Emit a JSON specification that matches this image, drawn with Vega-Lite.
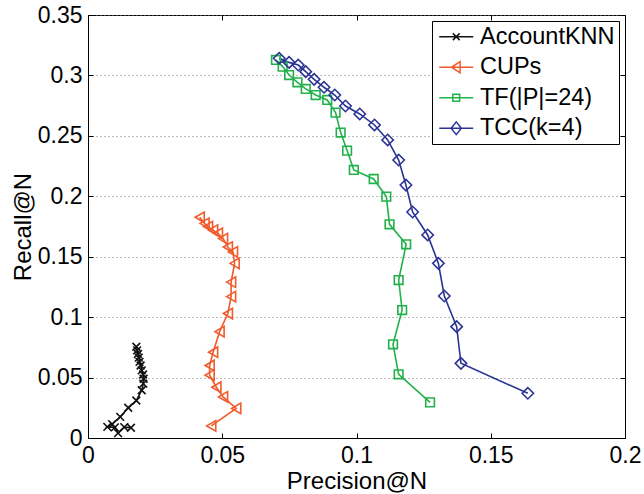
{
  "$schema": "https://vega.github.io/schema/vega-lite/v6.json",
  "autosize": "none",
  "width": 537,
  "height": 423,
  "padding": {"left": 88, "top": 15, "right": 19, "bottom": 56},
  "background": "white",
  "config": {
    "font": "Liberation Sans",
    "view": {"stroke": "black", "strokeWidth": 1},
    "axis": {
      "domainColor": "black",
      "tickColor": "black",
      "labelColor": "black",
      "titleColor": "black",
      "labelFont": "Liberation Sans",
      "titleFont": "Liberation Sans",
      "labelFontSize": 23,
      "titleFontSize": 24,
      "titleFontWeight": "normal",
      "labelFlush": false,
      "labelOverlap": false
    }
  },
  "data": {"values": [
    {"method": "AccountKNN", "n": 1, "precision": 0.0160, "recall": 0.0085},
    {"method": "AccountKNN", "n": 2, "precision": 0.0135, "recall": 0.0090},
    {"method": "AccountKNN", "n": 3, "precision": 0.0112, "recall": 0.0040},
    {"method": "AccountKNN", "n": 4, "precision": 0.0100, "recall": 0.0088},
    {"method": "AccountKNN", "n": 5, "precision": 0.0072, "recall": 0.0092},
    {"method": "AccountKNN", "n": 6, "precision": 0.0090, "recall": 0.0115},
    {"method": "AccountKNN", "n": 7, "precision": 0.0120, "recall": 0.0175},
    {"method": "AccountKNN", "n": 8, "precision": 0.0150, "recall": 0.0250},
    {"method": "AccountKNN", "n": 9, "precision": 0.0180, "recall": 0.0310},
    {"method": "AccountKNN", "n": 10, "precision": 0.0200, "recall": 0.0395},
    {"method": "AccountKNN", "n": 11, "precision": 0.0206, "recall": 0.0450},
    {"method": "AccountKNN", "n": 12, "precision": 0.0207, "recall": 0.0490},
    {"method": "AccountKNN", "n": 13, "precision": 0.0205, "recall": 0.0525},
    {"method": "AccountKNN", "n": 14, "precision": 0.0200, "recall": 0.0560},
    {"method": "AccountKNN", "n": 15, "precision": 0.0196, "recall": 0.0600},
    {"method": "AccountKNN", "n": 16, "precision": 0.0192, "recall": 0.0630},
    {"method": "AccountKNN", "n": 17, "precision": 0.0189, "recall": 0.0665},
    {"method": "AccountKNN", "n": 18, "precision": 0.0186, "recall": 0.0695},
    {"method": "AccountKNN", "n": 19, "precision": 0.0183, "recall": 0.0725},
    {"method": "AccountKNN", "n": 20, "precision": 0.0180, "recall": 0.0755},
    {"method": "CUPs", "n": 1, "precision": 0.0459, "recall": 0.0100},
    {"method": "CUPs", "n": 2, "precision": 0.0552, "recall": 0.0245},
    {"method": "CUPs", "n": 3, "precision": 0.0503, "recall": 0.0340},
    {"method": "CUPs", "n": 4, "precision": 0.0478, "recall": 0.0420},
    {"method": "CUPs", "n": 5, "precision": 0.0453, "recall": 0.0520},
    {"method": "CUPs", "n": 6, "precision": 0.0453, "recall": 0.0600},
    {"method": "CUPs", "n": 7, "precision": 0.0466, "recall": 0.0710},
    {"method": "CUPs", "n": 8, "precision": 0.0490, "recall": 0.0880},
    {"method": "CUPs", "n": 9, "precision": 0.0521, "recall": 0.1030},
    {"method": "CUPs", "n": 10, "precision": 0.0533, "recall": 0.1170},
    {"method": "CUPs", "n": 11, "precision": 0.0533, "recall": 0.1290},
    {"method": "CUPs", "n": 12, "precision": 0.0546, "recall": 0.1445},
    {"method": "CUPs", "n": 13, "precision": 0.0540, "recall": 0.1540},
    {"method": "CUPs", "n": 14, "precision": 0.0521, "recall": 0.1580},
    {"method": "CUPs", "n": 15, "precision": 0.0503, "recall": 0.1650},
    {"method": "CUPs", "n": 16, "precision": 0.0484, "recall": 0.1694},
    {"method": "CUPs", "n": 17, "precision": 0.0466, "recall": 0.1720},
    {"method": "CUPs", "n": 18, "precision": 0.0447, "recall": 0.1749},
    {"method": "CUPs", "n": 19, "precision": 0.0434, "recall": 0.1776},
    {"method": "CUPs", "n": 20, "precision": 0.0416, "recall": 0.1826},
    {"method": "TF(|P|=24)", "n": 1, "precision": 0.1274, "recall": 0.0295},
    {"method": "TF(|P|=24)", "n": 2, "precision": 0.1157, "recall": 0.0527},
    {"method": "TF(|P|=24)", "n": 3, "precision": 0.1136, "recall": 0.0775},
    {"method": "TF(|P|=24)", "n": 4, "precision": 0.1170, "recall": 0.1059},
    {"method": "TF(|P|=24)", "n": 5, "precision": 0.1157, "recall": 0.1307},
    {"method": "TF(|P|=24)", "n": 6, "precision": 0.1185, "recall": 0.1603},
    {"method": "TF(|P|=24)", "n": 7, "precision": 0.1123, "recall": 0.1768},
    {"method": "TF(|P|=24)", "n": 8, "precision": 0.1111, "recall": 0.1997},
    {"method": "TF(|P|=24)", "n": 9, "precision": 0.1064, "recall": 0.2143},
    {"method": "TF(|P|=24)", "n": 10, "precision": 0.0990, "recall": 0.2218},
    {"method": "TF(|P|=24)", "n": 11, "precision": 0.0965, "recall": 0.2378},
    {"method": "TF(|P|=24)", "n": 12, "precision": 0.0941, "recall": 0.2527},
    {"method": "TF(|P|=24)", "n": 13, "precision": 0.0922, "recall": 0.2692},
    {"method": "TF(|P|=24)", "n": 14, "precision": 0.0891, "recall": 0.2797},
    {"method": "TF(|P|=24)", "n": 15, "precision": 0.0848, "recall": 0.2838},
    {"method": "TF(|P|=24)", "n": 16, "precision": 0.0811, "recall": 0.2888},
    {"method": "TF(|P|=24)", "n": 17, "precision": 0.0780, "recall": 0.2943},
    {"method": "TF(|P|=24)", "n": 18, "precision": 0.0749, "recall": 0.3003},
    {"method": "TF(|P|=24)", "n": 19, "precision": 0.0725, "recall": 0.3073},
    {"method": "TF(|P|=24)", "n": 20, "precision": 0.0700, "recall": 0.3128},
    {"method": "TCC(k=4)", "n": 1, "precision": 0.1638, "recall": 0.0370},
    {"method": "TCC(k=4)", "n": 2, "precision": 0.1389, "recall": 0.0618},
    {"method": "TCC(k=4)", "n": 3, "precision": 0.1373, "recall": 0.0921},
    {"method": "TCC(k=4)", "n": 4, "precision": 0.1327, "recall": 0.1175},
    {"method": "TCC(k=4)", "n": 5, "precision": 0.1305, "recall": 0.1445},
    {"method": "TCC(k=4)", "n": 6, "precision": 0.1265, "recall": 0.1680},
    {"method": "TCC(k=4)", "n": 7, "precision": 0.1209, "recall": 0.1870},
    {"method": "TCC(k=4)", "n": 8, "precision": 0.1184, "recall": 0.2093},
    {"method": "TCC(k=4)", "n": 9, "precision": 0.1157, "recall": 0.2300},
    {"method": "TCC(k=4)", "n": 10, "precision": 0.1116, "recall": 0.2466},
    {"method": "TCC(k=4)", "n": 11, "precision": 0.1067, "recall": 0.2590},
    {"method": "TCC(k=4)", "n": 12, "precision": 0.1012, "recall": 0.2681},
    {"method": "TCC(k=4)", "n": 13, "precision": 0.0959, "recall": 0.2747},
    {"method": "TCC(k=4)", "n": 14, "precision": 0.0919, "recall": 0.2838},
    {"method": "TCC(k=4)", "n": 15, "precision": 0.0879, "recall": 0.2902},
    {"method": "TCC(k=4)", "n": 16, "precision": 0.0842, "recall": 0.2968},
    {"method": "TCC(k=4)", "n": 17, "precision": 0.0811, "recall": 0.3031},
    {"method": "TCC(k=4)", "n": 18, "precision": 0.0783, "recall": 0.3086},
    {"method": "TCC(k=4)", "n": 19, "precision": 0.0749, "recall": 0.3108},
    {"method": "TCC(k=4)", "n": 20, "precision": 0.0712, "recall": 0.3142}
  ]},
  "encoding": {
    "color": {
      "field": "method", "type": "nominal",
      "scale": {"domain": ["AccountKNN", "CUPs", "TF(|P|=24)", "TCC(k=4)"],
                "range": ["#111111", "#f15a2b", "#21b14b", "#2b3494"]},
      "legend": {
        "title": null, "orient": "none", "legendX": 344, "legendY": 6,
        "fillColor": "white", "strokeColor": "black", "padding": 4,
        "labelFont": "Liberation Sans", "labelFontSize": 23.5, "labelColor": "black",
        "symbolSize": 289, "symbolStrokeWidth": 1.5, "symbolFillColor": "transparent",
        "symbolOffset": 8.5, "rowPadding": 5.5, "labelOffset": 12,
        "encode": {
          "symbols": {"update": {
            "fill": {"value": "transparent"},
            "shape": {"signal": "datum.value === 'AccountKNN' ? 'M-2,0L2,0M-0.4,-0.4L0.4,0.4M-0.4,0.4L0.4,-0.4' : datum.value === 'CUPs' ? 'M-2,0L2,0M-0.55,0L0.45,-0.65L0.45,0.65Z' : datum.value === 'TF(|P|=24)' ? 'M-2,0L2,0M-0.4,-0.4L0.4,-0.4L0.4,0.4L-0.4,0.4Z' : 'M-2,0L2,0M-0.6,0L0,-0.75L0.6,0L0,0.75Z'"}
          }}
        }
      }
    }
  },
  "resolve": {"axis": {"x": "independent", "y": "independent"}},
  "layer": [
    {
      "mark": {"type": "line", "strokeWidth": 1.6},
      "encoding": {
        "x": {
          "field": "precision", "type": "quantitative",
          "scale": {"domain": [0, 0.2], "nice": false, "zero": false},
          "axis": {"title": "Precision@N", "values": [0, 0.05, 0.1, 0.15, 0.2], "format": ".2~f", "grid": false,
                   "tickSize": -5, "labelPadding": 11, "titlePadding": 2}
        },
        "y": {
          "field": "recall", "type": "quantitative",
          "scale": {"domain": [0, 0.35], "nice": false, "zero": false},
          "axis": {"title": "Recall@N", "values": [0, 0.05, 0.1, 0.15, 0.2, 0.25, 0.3, 0.35], "format": ".2~f",
                   "grid": true, "gridDash": [1, 3], "gridColor": "#777", "gridWidth": 1,
                   "tickSize": -5, "labelPadding": 11, "titlePadding": 2}
        },
        "order": {"field": "n", "type": "quantitative"}
      }
    },
    {
      "transform": [{"filter": "datum.method === 'AccountKNN'"}],
      "mark": {"type": "point", "filled": false, "strokeWidth": 1.6, "opacity": 1, "shape": "M-1,-1L1,1M-1,1L1,-1", "size": 60},
      "encoding": {
        "x": {"field": "precision", "type": "quantitative",
              "axis": {"orient": "top", "labels": false, "title": null, "domain": false, "grid": false, "tickSize": -5, "values": [0, 0.05, 0.1, 0.15, 0.2]}},
        "y": {"field": "recall", "type": "quantitative",
              "axis": {"orient": "right", "labels": false, "title": null, "domain": false, "grid": false, "tickSize": -5, "values": [0, 0.05, 0.1, 0.15, 0.2, 0.25, 0.3, 0.35]}}
      }
    },
    {
      "transform": [{"filter": "datum.method === 'CUPs'"}],
      "mark": {"type": "point", "filled": false, "strokeWidth": 1.6, "opacity": 1, "shape": "triangle-left", "size": 110},
      "encoding": {
        "x": {"field": "precision", "type": "quantitative", "axis": null},
        "y": {"field": "recall", "type": "quantitative", "axis": null}
      }
    },
    {
      "transform": [{"filter": "datum.method === 'TF(|P|=24)'"}],
      "mark": {"type": "point", "filled": false, "strokeWidth": 1.6, "opacity": 1, "shape": "square", "size": 75},
      "encoding": {
        "x": {"field": "precision", "type": "quantitative", "axis": null},
        "y": {"field": "recall", "type": "quantitative", "axis": null}
      }
    },
    {
      "transform": [{"filter": "datum.method === 'TCC(k=4)'"}],
      "mark": {"type": "point", "filled": false, "strokeWidth": 1.6, "opacity": 1, "shape": "diamond", "size": 130},
      "encoding": {
        "x": {"field": "precision", "type": "quantitative", "axis": null},
        "y": {"field": "recall", "type": "quantitative", "axis": null}
      }
    }
  ]
}
